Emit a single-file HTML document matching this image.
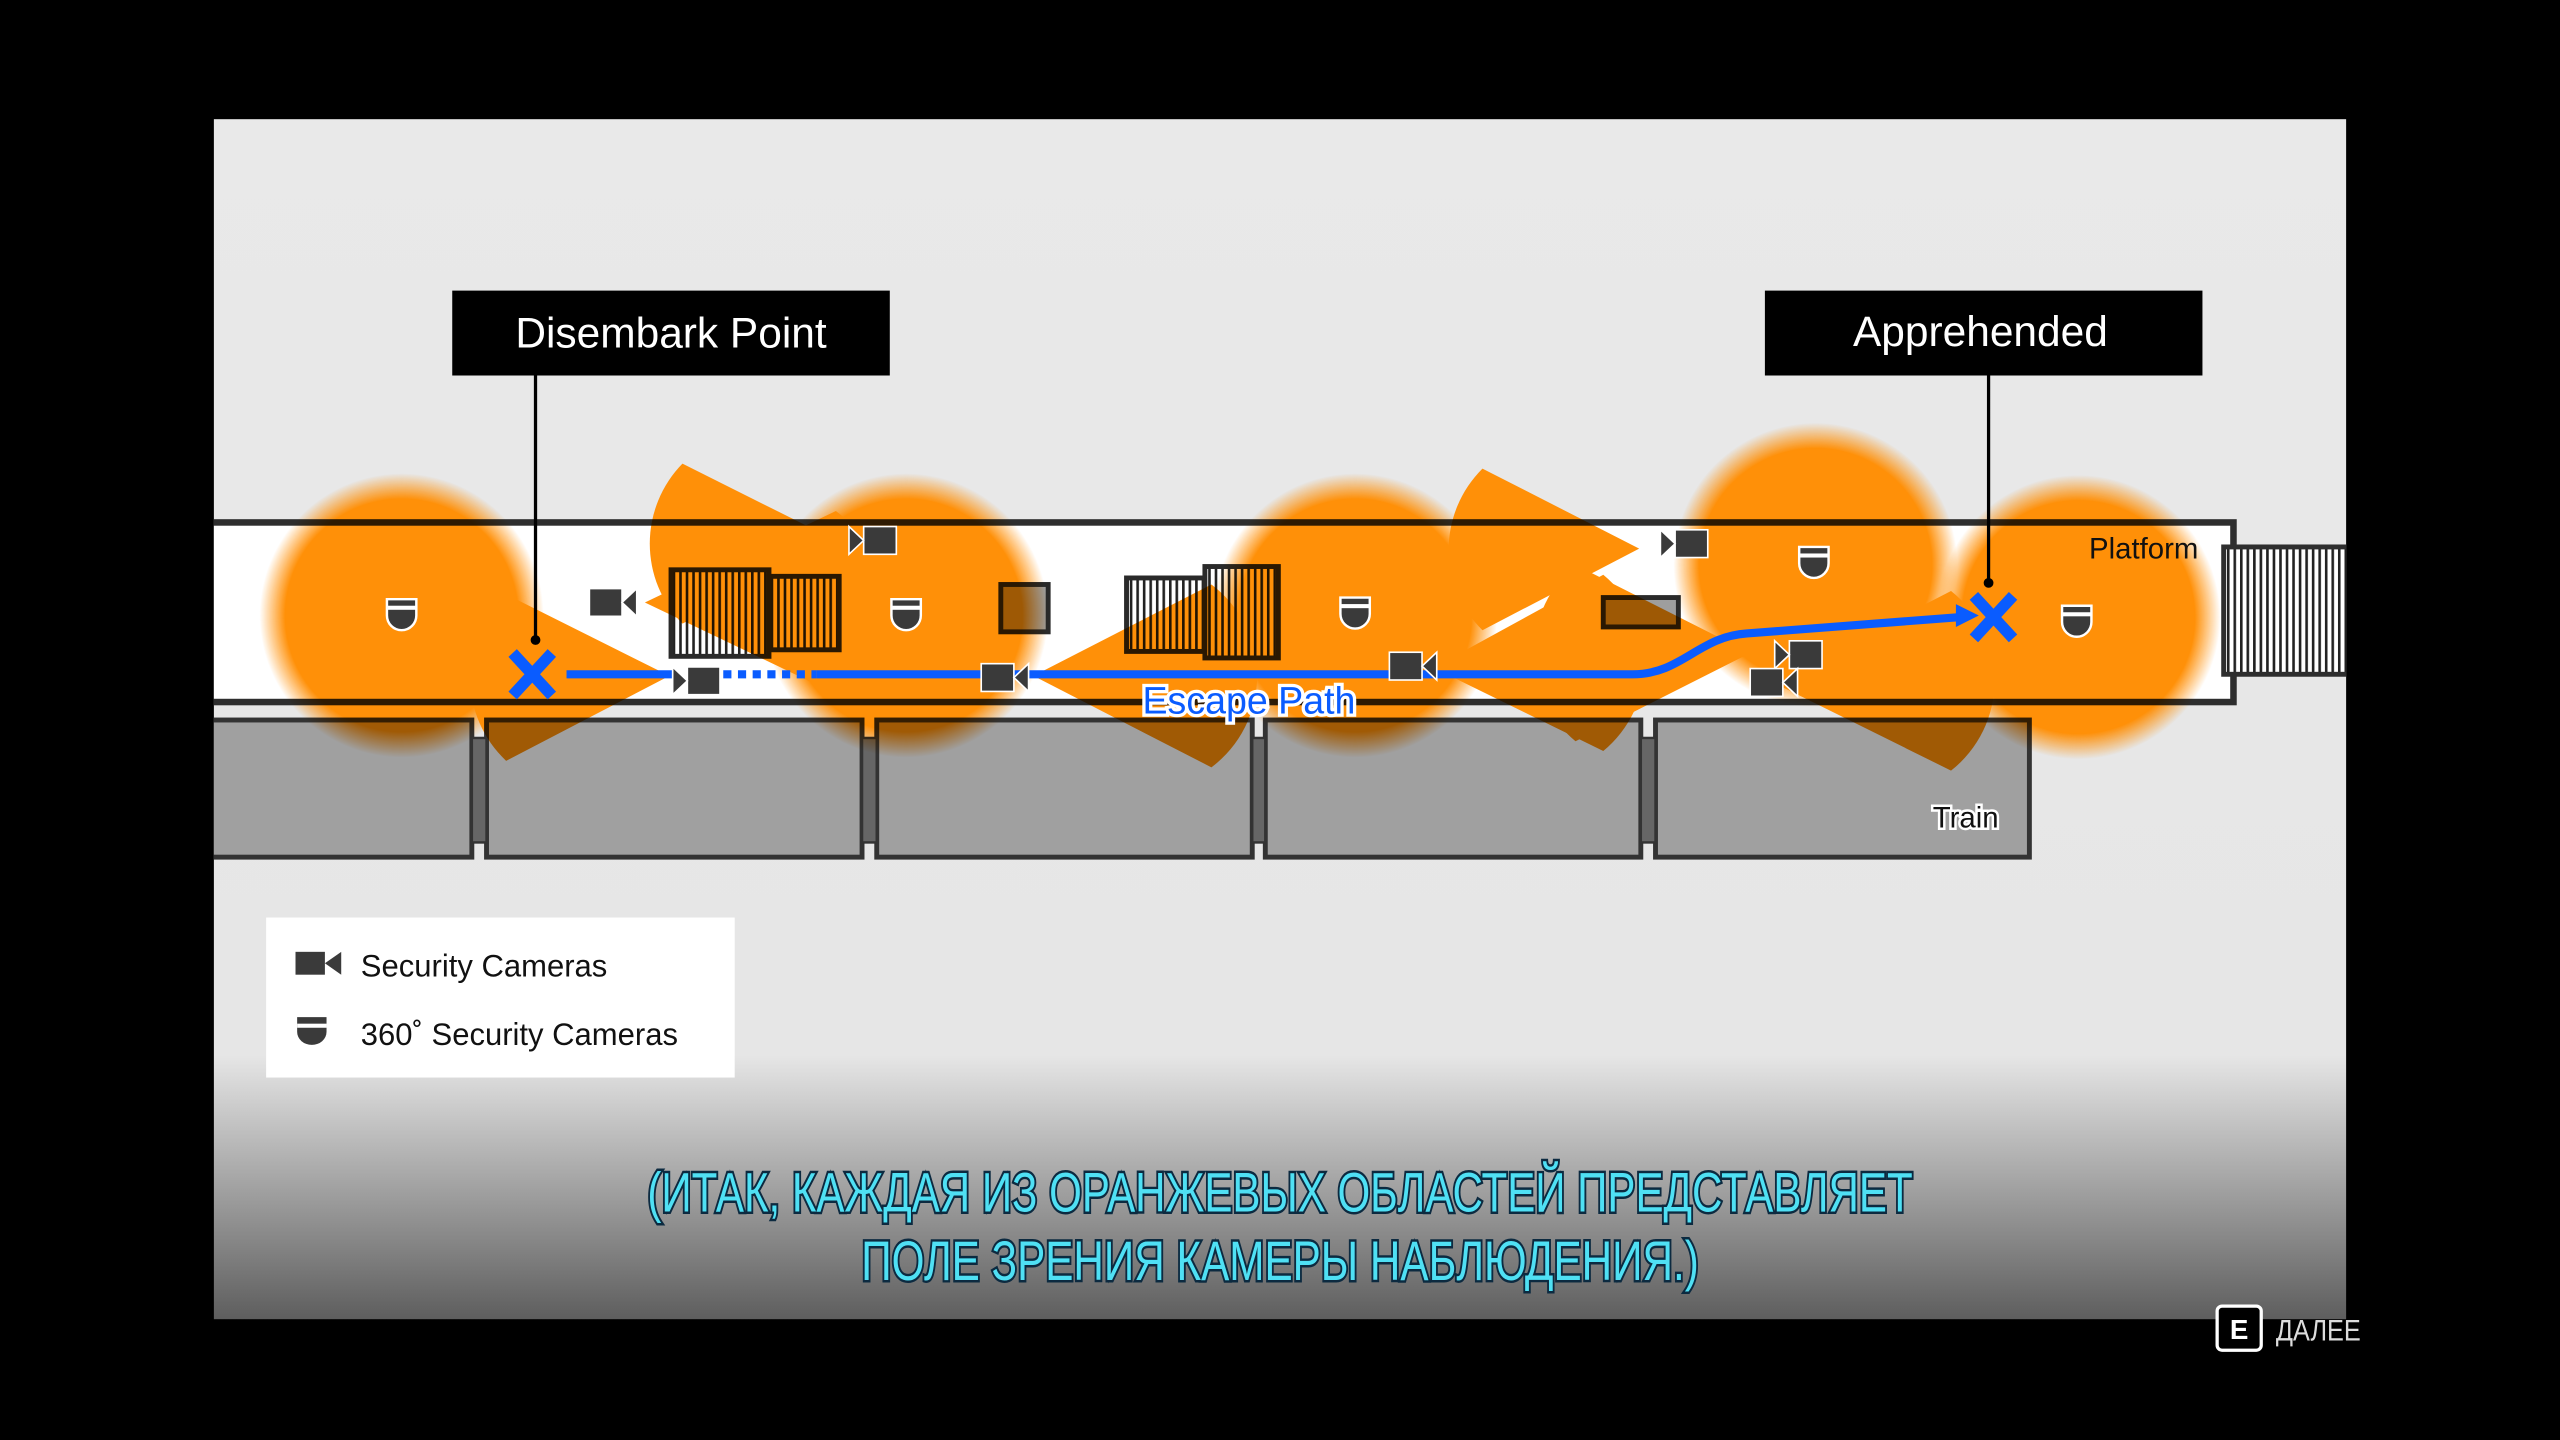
<!DOCTYPE html>
<html><head><meta charset="utf-8"><style>
html,body{margin:0;padding:0;background:#000;width:2560px;height:1440px;overflow:hidden}
svg{display:block}
</style></head><body>
<svg width="2560" height="1440" viewBox="0 0 1568 882" xmlns="http://www.w3.org/2000/svg">
<defs>
<linearGradient id="bg" x1="0" y1="0" x2="0" y2="1">
<stop offset="0" stop-color="#e9e9e9"/><stop offset="0.78" stop-color="#e6e6e6"/><stop offset="1" stop-color="#5e5e5e"/>
</linearGradient>
<radialGradient id="og">
<stop offset="0" stop-color="#ff8c00"/><stop offset="0.82" stop-color="#ff8c00"/><stop offset="1" stop-color="#ff8c00" stop-opacity="0"/>
</radialGradient>
<pattern id="st" width="4" height="10" patternUnits="userSpaceOnUse">
<rect width="4" height="10" fill="#fff"/><rect width="1.6" height="10" fill="#222"/>
</pattern>
<clipPath id="pc"><rect x="131" y="73" width="1306" height="735"/></clipPath>
<g id="cam"><rect x="-16" y="-8.5" width="20" height="17" fill="#3a3a3a" stroke="#fff" stroke-width="1"/><path d="M4,0 L13,-8.5 L13,8.5 Z" fill="#3a3a3a" stroke="#fff" stroke-width="1"/></g>
<g id="dome"><path d="M-9,-9 H9 V1 A9,9 0 0 1 -9,1 Z" fill="#3a3a3a" stroke="#fff" stroke-width="1.5"/><rect x="-9" y="-5" width="18" height="2.5" fill="#fff"/></g>
</defs>
<rect width="1568" height="882" fill="#000"/>
<rect x="131" y="73" width="1306" height="735" fill="url(#bg)"/>
<g clip-path="url(#pc)">
<!-- platform -->
<rect x="120" y="320" width="1248" height="110" fill="#fff" stroke="#2e2e2e" stroke-width="4"/>
<rect x="1362" y="335" width="80" height="78" fill="url(#st)" stroke="#2e2e2e" stroke-width="3"/>
<!-- train -->
<g fill="#a0a0a0" stroke="#333" stroke-width="3">
<rect x="120" y="441" width="169" height="84"/>
<rect x="298" y="441" width="230" height="84"/>
<rect x="537" y="441" width="230" height="84"/>
<rect x="775" y="441" width="230" height="84"/>
<rect x="1014" y="441" width="229" height="84"/>
</g>
<g fill="#666" stroke="#333" stroke-width="1.5">
<rect x="289" y="452" width="9" height="64"/><rect x="528" y="452" width="9" height="64"/><rect x="767" y="452" width="8" height="64"/><rect x="1005" y="452" width="9" height="64"/>
</g>
<!-- stairs & boxes -->
<g stroke="#2a2a2a" stroke-width="3">
<rect x="411" y="349" width="60" height="53" fill="url(#st)"/>
<rect x="471" y="353" width="43" height="45" fill="url(#st)"/>
<rect x="690" y="354" width="48" height="45" fill="url(#st)"/>
<rect x="738" y="347" width="45" height="56" fill="url(#st)"/>
<rect x="613" y="358" width="29" height="29" fill="#9e9e9e"/>
<rect x="982" y="366" width="46" height="18" fill="#9e9e9e"/>
</g>
<!-- orange layer -->
<g style="mix-blend-mode:multiply" opacity="0.97">
<circle cx="246" cy="377" r="87" fill="url(#og)"/>
<circle cx="555" cy="377" r="87" fill="url(#og)"/>
<circle cx="830" cy="377" r="87" fill="url(#og)"/>
<circle cx="1112" cy="346" r="87" fill="url(#og)"/>
<circle cx="1273" cy="378" r="87" fill="url(#og)"/>
<g fill="#ff8c00">
<path d="M410,414 L310,364 A70,70 0 0 0 310,466 Z"/>
<path d="M514,332 L418,284 A70,70 0 0 0 418,382 Z"/>
<path d="M395,369 L512,313 A70,70 0 0 1 512,425 Z"/>
<path d="M633,414 L742,358 A70,70 0 0 1 742,470 Z"/>
<path d="M1004,336 L908,287 A70,70 0 0 0 908,386 Z"/>
<path d="M878,409 L982,352 A70,70 0 0 1 982,460 Z"/>
<path d="M1072,400 L965,346 A70,70 0 0 0 965,454 Z"/>
<path d="M1086,418 L1195,362 A70,70 0 0 1 1195,472 Z"/>
</g>
</g>
</g>
<!-- escape path -->
<g stroke="#0a5cff" fill="none">
<line x1="347" y1="413" x2="412" y2="413" stroke-width="5"/>
<line x1="443" y1="413" x2="500" y2="413" stroke-width="5" stroke-dasharray="5,4"/>
<path d="M500,413 H1000 C1030,413 1040,390 1070,388 L1200,378" stroke-width="5"/>
</g>
<path d="M1198,370 L1212,377 L1198,384 Z" fill="#0a5cff"/>
<g stroke="#0a5cff" stroke-width="7" stroke-linecap="butt">
<line x1="314" y1="400" x2="338" y2="426"/><line x1="338" y1="400" x2="314" y2="426"/>
<line x1="1209" y1="365" x2="1233" y2="391"/><line x1="1233" y1="365" x2="1209" y2="391"/>
</g>
<!-- cameras -->
<use href="#cam" transform="translate(377,369)"/>
<use href="#cam" transform="translate(425,417) scale(-1,1)"/>
<use href="#cam" transform="translate(533,331) scale(-1,1)"/>
<use href="#cam" transform="translate(617,415)"/>
<use href="#cam" transform="translate(867,408)"/>
<use href="#cam" transform="translate(1030,333) scale(-1,1)"/>
<use href="#cam" transform="translate(1100,401) scale(-1,1)"/>
<use href="#cam" transform="translate(1088,418)"/>
<use href="#dome" transform="translate(246,376)"/>
<use href="#dome" transform="translate(555,376)"/>
<use href="#dome" transform="translate(830,375)"/>
<use href="#dome" transform="translate(1111,344)"/>
<use href="#dome" transform="translate(1272,380)"/>
<!-- labels -->
<line x1="328" y1="228" x2="328" y2="392" stroke="#000" stroke-width="2"/><circle cx="328" cy="392" r="3" fill="#000"/>
<line x1="1218" y1="228" x2="1218" y2="357" stroke="#000" stroke-width="2"/><circle cx="1218" cy="357" r="3" fill="#000"/>
<rect x="277" y="178" width="268" height="52" fill="#000"/>
<text x="411" y="213" font-family="Liberation Sans, sans-serif" font-size="26" fill="#fff" text-anchor="middle">Disembark Point</text>
<rect x="1081" y="178" width="268" height="52" fill="#000"/>
<text x="1213" y="212" font-family="Liberation Sans, sans-serif" font-size="26" fill="#fff" text-anchor="middle">Apprehended</text>
<text x="765" y="437" font-family="Liberation Sans, sans-serif" font-size="23" fill="#0a5cff" stroke="#fff" stroke-width="4" paint-order="stroke" text-anchor="middle">Escape Path</text>
<text x="1313" y="342" font-family="Liberation Sans, sans-serif" font-size="18" fill="#111" text-anchor="middle">Platform</text>
<text x="1204" y="507" font-family="Liberation Sans, sans-serif" font-size="18" fill="#111" stroke="#fff" stroke-width="3" paint-order="stroke" text-anchor="middle">Train</text>
<!-- legend -->
<rect x="163" y="562" width="287" height="98" fill="#fff"/>
<g transform="translate(195,590)"><rect x="-14" y="-7" width="18" height="14" fill="#3a3a3a"/><path d="M4,0 L14,-7 L14,7 Z" fill="#3a3a3a"/></g>
<g transform="translate(191,631)"><path d="M-9,-8 H9 V1 A9,8 0 0 1 -9,1 Z" fill="#3a3a3a"/><rect x="-9" y="-4" width="18" height="2.5" fill="#fff"/></g>
<text x="221" y="598" font-family="Liberation Sans, sans-serif" font-size="19" fill="#111">Security Cameras</text>
<text x="221" y="640" font-family="Liberation Sans, sans-serif" font-size="19" fill="#111">360˚ Security Cameras</text>
<!-- subtitles -->
<g font-family="Liberation Sans Narrow, Liberation Sans, sans-serif" font-size="34" fill="#4fe0f4" stroke="#0c2a40" stroke-width="3" paint-order="stroke" text-anchor="middle">
<text x="784" y="742" textLength="775" lengthAdjust="spacingAndGlyphs">(ИТАК, КАЖДАЯ ИЗ ОРАНЖЕВЫХ ОБЛАСТЕЙ ПРЕДСТАВЛЯЕТ</text>
<text x="784" y="784" textLength="513" lengthAdjust="spacingAndGlyphs">ПОЛЕ ЗРЕНИЯ КАМЕРЫ НАБЛЮДЕНИЯ.)</text>
</g>
<rect x="1358" y="800" width="27" height="27" rx="3" fill="#000" stroke="#fff" stroke-width="2"/>
<text x="1371.5" y="820" font-family="Liberation Sans, sans-serif" font-size="17" font-weight="bold" fill="#fff" text-anchor="middle">E</text>
<text x="1394" y="821" font-family="Liberation Sans Narrow, Liberation Sans, sans-serif" font-size="18" fill="#ddd" textLength="52" lengthAdjust="spacingAndGlyphs">ДАЛЕЕ</text>
</svg>
</body></html>
